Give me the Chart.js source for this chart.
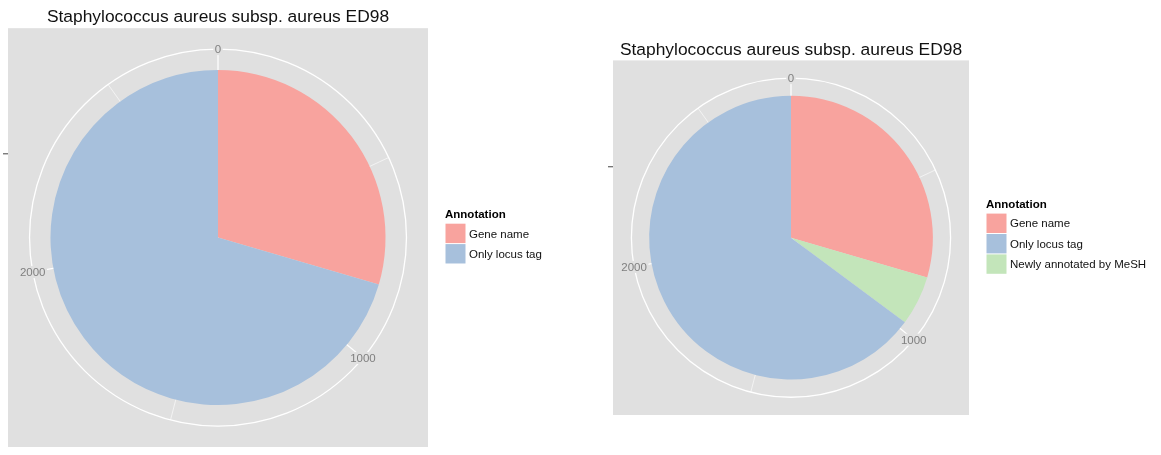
<!DOCTYPE html>
<html>
<head>
  <title>Staphylococcus aureus subsp. aureus ED98</title>
  <script src="https://cdn.jsdelivr.net/npm/chart.js"></script>
  <style>
    body { margin: 0; background: #fff; font-family: "Liberation Sans", Arial, sans-serif; }
    .box { position: absolute; top: 0; height: 455px; }
    #left { left: 0; width: 590px; }
    #right { left: 590px; width: 571px; }
  </style>
</head>
<body>
  <div class="box" id="left"><canvas id="leftChart"></canvas></div>
  <div class="box" id="right"><canvas id="rightChart"></canvas></div>

  <script>
    const chartTitle = 'Staphylococcus aureus subsp. aureus ED98';
    const legendTitle = 'Annotation';

    // legend order + fill colours
    const annotations = ['Gene name', 'Only locus tag', 'Newly annotated by MeSH'];
    const annotationColours = ['#F8A39E', '#A7C0DC', '#C3E5BA'];

    // slices, clockwise from 0
    const leftLabels = ['Gene name', 'Only locus tag'];
    const leftCounts = [819, 1956];
    const rightLabels = ['Gene name', 'Newly annotated by MeSH', 'Only locus tag'];
    const rightCounts = [819, 157, 1799];

    // angular axis
    const majorTicks = [0, 1000, 2000];
    const minorTicks = [500, 1500, 2500];

    const PANEL = '#E0E0E0';
    Chart.defaults.font.family = '"Liberation Sans", Arial, sans-serif';

    function colourOf(label) {
      return annotationColours[annotations.indexOf(label)];
    }

    // ggplot-ish polar panel: grey panel, spokes, outer circle, tick labels, legend
    const ggPolar = {
      id: 'ggPolar',
      beforeDraw(chart) {
        const { ctx, chartArea: a } = chart;
        ctx.save();
        ctx.fillStyle = PANEL;
        ctx.fillRect(a.left, a.top, a.right - a.left, a.bottom - a.top);
        ctx.restore();
      },
      beforeDatasetsDraw(chart) {
        const { ctx, chartArea: a } = chart;
        const arc = chart.getDatasetMeta(0).data[0];
        const cx = arc.x, cy = arc.y, r = arc.outerRadius * 1.125;
        const total = chart.data.datasets[0].data.reduce((s, v) => s + v, 0);
        ctx.save();
        ctx.strokeStyle = '#fff';
        const spoke = (v, w) => {
          const ang = -Math.PI / 2 + v / total * Math.PI * 2;
          ctx.lineWidth = w;
          ctx.beginPath();
          ctx.moveTo(cx, cy);
          ctx.lineTo(cx + r * Math.cos(ang), cy + r * Math.sin(ang));
          ctx.stroke();
        };
        minorTicks.forEach(v => spoke(v, 0.6));
        majorTicks.forEach(v => spoke(v, 1.2));
        ctx.lineWidth = 1.3;
        ctx.beginPath();
        ctx.arc(cx, cy, r, 0, Math.PI * 2);
        ctx.stroke();
        // radial axis tick
        ctx.strokeStyle = '#444';
        ctx.lineWidth = 1;
        ctx.beginPath();
        ctx.moveTo(a.left - 5, cy - arc.outerRadius / 2);
        ctx.lineTo(a.left, cy - arc.outerRadius / 2);
        ctx.stroke();
        ctx.restore();
      },
      afterDatasetsDraw(chart) {
        const { ctx, chartArea: a } = chart;
        const arc = chart.getDatasetMeta(0).data[0];
        const cx = arc.x, cy = arc.y, r = arc.outerRadius * 1.125;
        const ds = chart.data.datasets[0];
        const total = ds.data.reduce((s, v) => s + v, 0);
        ctx.save();
        ctx.font = '11.5px "Liberation Sans", Arial, sans-serif';
        ctx.textAlign = 'center';
        ctx.textBaseline = 'middle';
        majorTicks.forEach(v => {
          const ang = -Math.PI / 2 + v / total * Math.PI * 2;
          const x = cx + r * Math.cos(ang), y = cy + r * Math.sin(ang);
          const w = ctx.measureText(String(v)).width + 3;
          ctx.fillStyle = PANEL;
          ctx.fillRect(x - w / 2, y - 6, w, 12);
          ctx.fillStyle = '#7F7F7F';
          ctx.fillText(String(v), x, y + 1);
        });

        // legend
        const items = annotations.filter(l => chart.data.labels.includes(l));
        const rowH = 20.4, titleH = 17;
        const top = cy - 2.5 - (titleH + items.length * rowH) / 2;
        const lx = a.right + 17;
        ctx.textAlign = 'left';
        ctx.fillStyle = '#000';
        ctx.font = 'bold 11.5px "Liberation Sans", Arial, sans-serif';
        ctx.fillText(legendTitle, lx, top + 8.5);
        ctx.font = '11.5px "Liberation Sans", Arial, sans-serif';
        items.forEach((label, i) => {
          const y = top + titleH + i * rowH;
          ctx.fillStyle = colourOf(label);
          ctx.fillRect(lx + 0.5, y + 0.5, 20, rowH - 1);
          ctx.fillStyle = '#111';
          ctx.fillText(label, lx + 24, y + rowH / 2 + 1);
        });
        ctx.restore();
      }
    };

    function makePie(id, labels, counts, padding, titlePadding) {
      return new Chart(document.getElementById(id), {
        type: 'pie',
        data: {
          labels: labels,
          datasets: [{
            data: counts,
            backgroundColor: labels.map(colourOf),
            borderWidth: 0,
            radius: '80%'
          }]
        },
        options: {
          responsive: true,
          maintainAspectRatio: false,
          animation: false,
          rotation: 0,
          layout: { padding: padding },
          plugins: {
            legend: { display: false },
            tooltip: { enabled: false },
            title: {
              display: true,
              text: chartTitle,
              fullSize: false,
              color: '#111',
              font: { size: 17.4, weight: 'normal' },
              padding: titlePadding
            }
          }
        },
        plugins: [ggPolar]
      });
    }

    makePie('leftChart', leftLabels, leftCounts,
      { left: 8, right: 162, top: 0, bottom: 8 }, { top: 6.5, bottom: 0.8 });
    makePie('rightChart', rightLabels, rightCounts,
      { left: 23, right: 192, top: 31, bottom: 40 }, { top: 8.5, bottom: 0 });
  </script>
</body>
</html>
